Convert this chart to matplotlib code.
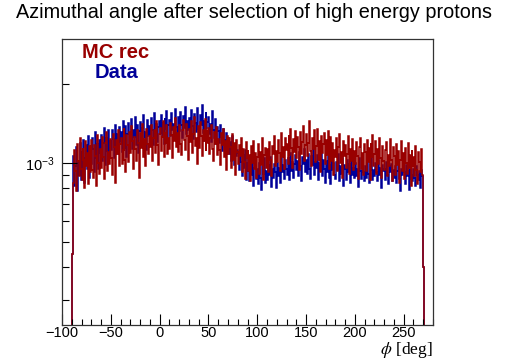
import numpy as np
import matplotlib
matplotlib.use("Agg")
import matplotlib.pyplot as plt
from matplotlib.ticker import FixedLocator, NullFormatter

plt.rcParams['font.family'] = ['Liberation Sans', 'DejaVu Sans']
plt.rcParams['mathtext.fontset'] = 'custom'
plt.rcParams['mathtext.rm'] = 'Liberation Sans'
plt.rcParams['mathtext.it'] = 'Liberation Sans:italic'

# bin edges in degrees: -90 .. 271 (1 degree bins)
phi_start = -90
phi_stop = 271

# normalised counts, units of 1e-3, one value per degree
mc_rec = [
    0.45, 0.84, 1.12, 0.93, 0.78, 1.18, 1.02, 0.89, 1.25, 0.95,
    0.86, 1.14, 1.03, 0.80, 1.21, 0.97, 1.09, 0.83, 1.16, 0.92,
    1.22, 0.94, 0.88, 1.17, 1.06, 0.82, 1.28, 1.00, 0.91, 1.13,
    0.96, 1.26, 1.05, 0.87, 1.19, 1.31, 0.93, 1.10, 0.99, 1.23,
    1.04, 0.90, 1.29, 1.15, 0.84, 1.22, 1.08, 1.34, 0.97, 1.18,
    1.25, 0.99, 1.12, 1.36, 1.03, 0.92, 1.28, 1.17, 1.01, 1.31,
    1.09, 1.38, 1.21, 0.95, 1.26, 1.13, 1.02, 1.33, 1.19, 0.88,
    1.30, 1.14, 1.41, 1.05, 1.23, 0.97, 1.35, 1.18, 1.08, 1.27,
    1.15, 1.39, 1.02, 1.24, 1.33, 1.09, 1.44, 1.17, 0.98, 1.29,
    1.36, 1.11, 1.26, 1.45, 1.05, 1.31, 1.19, 1.40, 1.08, 1.24,
    1.13, 1.42, 1.28, 1.04, 1.37, 1.21, 1.48, 1.15, 1.30, 1.10,
    1.39, 1.18, 1.07, 1.33, 1.46, 1.22, 1.12, 1.41, 1.27, 1.03,
    1.35, 1.20, 1.44, 1.09, 1.29, 1.50, 1.16, 1.25, 0.99, 1.38,
    1.14, 1.43, 1.27, 1.06, 1.34, 1.21, 1.47, 1.11, 1.32, 1.19,
    1.36, 1.08, 1.24, 1.40, 1.13, 1.02, 1.31, 1.18, 1.37, 1.07,
    1.23, 1.12, 0.98, 1.30, 1.17, 1.35, 1.05, 1.21, 0.94, 1.27,
    1.08, 1.24, 1.15, 0.96, 1.29, 1.03, 1.19, 0.90, 1.22, 1.10,
    0.99, 1.17, 1.06, 1.25, 0.92, 1.13, 1.01, 0.87, 1.20, 1.04,
    1.12, 0.93, 1.07, 0.85, 1.16, 1.00, 1.21, 0.95, 1.09, 0.88,
    1.05, 1.18, 0.91, 1.10, 0.98, 1.24, 0.86, 1.07, 1.14, 0.96,
    1.13, 0.92, 1.20, 1.03, 0.89, 1.16, 1.08, 1.27, 0.97, 1.11,
    1.01, 1.22, 1.09, 0.93, 1.30, 1.05, 1.15, 0.95, 1.25, 1.12,
    1.18, 0.99, 1.28, 1.07, 1.35, 1.14, 0.96, 1.23, 1.10, 1.32,
    1.04, 1.26, 1.15, 0.94, 1.31, 1.08, 1.20, 1.38, 1.02, 1.17,
    1.29, 1.06, 1.19, 1.45, 1.11, 0.97, 1.24, 1.13, 1.33, 1.01,
    1.16, 1.35, 1.03, 1.21, 0.92, 1.27, 1.09, 1.18, 1.30, 0.99,
    1.22, 1.07, 1.32, 0.95, 1.14, 1.26, 1.02, 1.19, 0.90, 1.12,
    1.05, 1.24, 0.93, 1.15, 1.29, 1.00, 1.10, 0.88, 1.21, 1.06,
    1.17, 0.96, 1.08, 1.27, 0.91, 1.13, 1.02, 1.23, 0.94, 1.11,
    0.99, 1.20, 1.06, 0.87, 1.15, 1.25, 0.95, 1.09, 0.90, 1.18,
    1.10, 0.93, 1.22, 1.01, 1.14, 0.86, 1.19, 1.05, 1.28, 0.97,
    1.08, 1.21, 0.91, 1.13, 0.99, 1.24, 1.04, 0.88, 1.16, 1.02,
    0.94, 1.12, 1.20, 0.89, 1.07, 0.97, 1.23, 1.03, 0.85, 1.15,
    1.06, 0.90, 1.18, 0.98, 1.11, 0.84, 1.03, 1.21, 0.93, 1.09,
    0.87, 1.14, 1.00, 0.91, 1.19, 0.96, 1.07, 0.82, 1.12, 0.97,
    1.05, 0.89, 1.16, 0.94, 0.83, 1.10, 1.01, 0.92, 1.13, 0.90,
    0.40,
]

data = [
    0.45, 1.06, 0.82, 0.97, 1.15, 0.78, 1.01, 0.90, 1.19, 0.86,
    1.10, 0.91, 1.22, 0.84, 1.04, 1.17, 0.95, 1.27, 0.88, 1.08,
    0.99, 1.25, 1.13, 0.92, 1.31, 1.04, 1.18, 0.95, 1.22, 1.09,
    1.28, 1.02, 1.19, 1.36, 0.98, 1.24, 1.11, 1.33, 1.05, 1.21,
    1.12, 1.34, 1.23, 1.04, 1.40, 1.16, 1.29, 1.08, 1.37, 1.20,
    1.31, 1.10, 1.44, 1.25, 1.14, 1.38, 1.05, 1.29, 1.42, 1.18,
    1.21, 1.47, 1.13, 1.34, 1.26, 1.50, 1.17, 1.39, 1.09, 1.32,
    1.43, 1.19, 1.36, 1.52, 1.24, 1.31, 1.12, 1.46, 1.27, 1.38,
    1.22, 1.49, 1.33, 1.17, 1.55, 1.28, 1.41, 1.20, 1.37, 1.45,
    1.30, 1.53, 1.26, 1.42, 1.18, 1.48, 1.35, 1.58, 1.24, 1.39,
    1.46, 1.27, 1.55, 1.33, 1.41, 1.22, 1.60, 1.37, 1.29, 1.50,
    1.32, 1.57, 1.40, 1.25, 1.51, 1.36, 1.63, 1.29, 1.44, 1.34,
    1.48, 1.30, 1.59, 1.38, 1.23, 1.54, 1.42, 1.31, 1.62, 1.35,
    1.27, 1.52, 1.39, 1.66, 1.30, 1.45, 1.21, 1.56, 1.36, 1.43,
    1.50, 1.29, 1.41, 1.20, 1.58, 1.34, 1.25, 1.47, 1.18, 1.37,
    1.32, 1.19, 1.40, 1.26, 1.11, 1.35, 1.22, 1.14, 1.30, 1.16,
    1.24, 1.08, 1.20, 1.02, 1.27, 1.13, 0.98, 1.18, 1.06, 1.12,
    1.09, 0.94, 1.14, 1.01, 0.89, 1.07, 0.96, 1.12, 0.86, 1.00,
    0.92, 1.05, 0.85, 0.98, 0.90, 1.08, 0.82, 0.96, 1.01, 0.87,
    0.95, 0.83, 1.00, 0.88, 0.79, 0.97, 0.91, 1.04, 0.84, 0.93,
    0.86, 0.98, 0.90, 1.05, 0.81, 0.95, 0.88, 0.99, 0.92, 0.80,
    1.00, 0.89, 0.96, 0.84, 1.06, 0.92, 0.98, 0.87, 1.03, 0.95,
    0.90, 1.04, 0.97, 0.86, 1.09, 0.93, 1.01, 0.88, 0.99, 1.07,
    0.94, 1.02, 0.89, 1.10, 0.97, 0.85, 1.05, 0.99, 1.13, 0.92,
    1.03, 0.91, 1.08, 0.95, 0.87, 1.06, 0.98, 1.14, 0.90, 1.01,
    0.96, 1.07, 0.86, 1.00, 0.93, 1.11, 0.89, 1.03, 0.95, 0.84,
    1.02, 0.92, 1.09, 0.88, 0.99, 0.83, 1.05, 0.94, 1.00, 0.90,
    0.87, 1.01, 0.94, 1.08, 0.85, 0.97, 0.91, 1.04, 0.82, 0.98,
    0.95, 0.86, 1.03, 0.92, 0.99, 0.84, 1.06, 0.90, 0.96, 0.88,
    1.00, 0.89, 0.95, 0.81, 1.04, 0.93, 0.87, 1.01, 0.92, 0.85,
    0.97, 0.88, 1.02, 0.91, 0.84, 0.99, 0.93, 1.05, 0.86, 0.94,
    0.89, 1.00, 0.92, 0.85, 1.03, 0.90, 0.96, 0.80, 0.98, 0.93,
    0.95, 0.86, 1.01, 0.90, 0.83, 0.97, 0.92, 0.99, 0.85, 0.94,
    0.88, 0.97, 0.84, 0.93, 1.00, 0.87, 0.78, 0.95, 0.90, 0.96,
    0.92, 0.83, 0.98, 0.89, 0.94, 0.79, 0.96, 0.87, 0.91, 0.85,
    0.95, 0.88, 0.82, 0.97, 0.90, 0.86, 0.93, 0.80, 0.94, 0.89,
    0.40,
]

title = "Azimuthal angle after selection of high energy protons"
xlabel = r"$\phi$ [deg]"
xticks_major = [-100, -50, 0, 50, 100, 150, 200, 250]
RED = "#990000"
BLUE = "#000099"

edges = np.arange(phi_start, phi_stop + 1, 1.0)
mc = np.array(mc_rec) * 1e-3
dt = np.array(data) * 1e-3

fig = plt.figure(figsize=(5.08, 3.60), dpi=100)
ax = fig.add_axes([62/508, 1 - 325/360, (433 - 62)/508, (325 - 39)/360])

ymin, ymax = 2.41e-4, 2.97e-3
ax.stairs(dt, edges, baseline=1e-6, color=BLUE, lw=1.1)
ax.stairs(mc, edges, baseline=1e-6, color=RED, lw=1.1)

ax.set_yscale('log')
ax.set_xlim(-100, 280)
ax.set_ylim(ymin, ymax)

ax.xaxis.set_major_locator(FixedLocator(xticks_major))
ax.xaxis.set_minor_locator(FixedLocator(np.arange(-100, 281, 10)))
ax.set_xticklabels([str(v).replace('-', '\u2212') for v in xticks_major])
ax.yaxis.set_major_locator(FixedLocator([1e-3]))
ax.yaxis.set_minor_locator(FixedLocator([3e-4, 4e-4, 5e-4, 6e-4, 7e-4, 8e-4, 9e-4, 2e-3]))
ax.yaxis.set_minor_formatter(NullFormatter())
ax.set_yticklabels([r"$10^{-3}$"])

ax.tick_params(axis='x', which='major', direction='in', length=8, width=0.8,
               labelsize=10.5, pad=1.0, top=False)
ax.tick_params(axis='x', which='minor', direction='in', length=4, width=0.8, top=False)
ax.tick_params(axis='y', which='major', direction='in', length=11, width=0.8,
               labelsize=10.5, pad=5, right=False)
ax.tick_params(axis='y', which='minor', direction='in', length=5, width=0.8, right=False)
for s in ax.spines.values():
    s.set_linewidth(0.9)
    s.set_color('#333333')

fig.text(0.5, 1 - 13/360, title, ha='center', va='center', fontsize=14.3)
fig.text(433/508, 1 - 350/360, xlabel, ha='right', va='center', fontsize=12.5,
         family='Liberation Serif', math_fontfamily='stix')
fig.text(116/508, 1 - 58/360, "MC rec", ha='center', va='baseline',
         fontsize=14.5, fontweight='bold', color=RED)
fig.text(116/508, 1 - 78/360, "Data", ha='center', va='baseline',
         fontsize=14.5, fontweight='bold', color=BLUE)

fig.savefig("out.png", dpi=100)
